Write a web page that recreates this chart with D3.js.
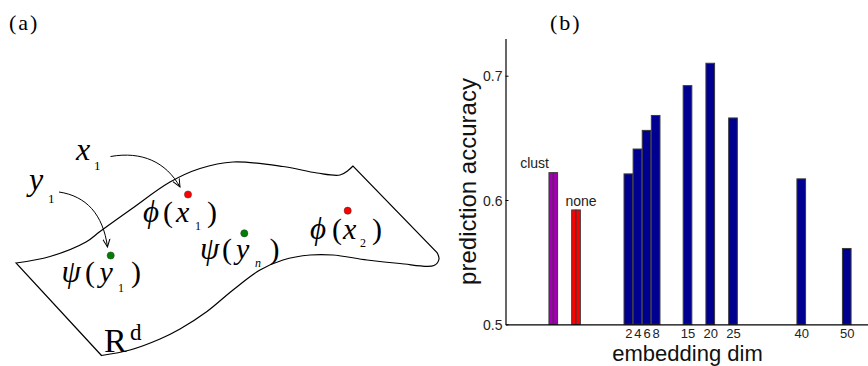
<!DOCTYPE html>
<html>
<head>
<meta charset="utf-8">
<script src="https://cdn.jsdelivr.net/npm/d3@7"></script>
<style>
  body { margin: 0; background: #fff; }
  svg { display: block; }
</style>
</head>
<body>
<svg id="fig" width="868" height="366"></svg>
<script>
// ---- panel (b) data ----
const methods = ['clust', 'none']
const methodPos = [-14.5, -9.5]
const methodAcc = [0.622, 0.592]
const methodColors = ['#a000b0', '#ff0000']

const dims = [2, 4, 6, 8, 15, 20, 25, 40, 50]
const dimAcc = [0.621, 0.641, 0.656, 0.668, 0.692, 0.71, 0.666, 0.617, 0.561]

const yTicks = [0.5, 0.6, 0.7]

// ---- panel (a) sketch outline ----
const manifoldTop = [[16, 263], [50, 256.5], [86, 242], [100, 231.5], [130, 210], [170, 182], [200, 168.5],
  [233, 162], [283, 166.5], [317, 173], [340, 175], [348, 170.5], [353, 166]]
const manifoldBottom = [[437, 252.5], [439, 259], [434, 265.5], [400, 263.5], [367, 260], [333, 255], [310, 255],
  [283, 260], [260, 270], [233, 290], [207, 311.5], [180, 329], [160, 339], [130, 350], [101.5, 355.5]]

const svg = d3.select('#fig')
const serif = "'Liberation Serif', 'Times New Roman', serif"
const sans = "'Liberation Sans', Arial, Helvetica, sans-serif"

// ================= panel (a) =================
const a = svg.append('g')

a.append('text')
  .attr('x', 9).attr('y', 30)
  .attr('font-family', serif).attr('font-size', 22)
  .attr('letter-spacing', 2)
  .text('(a)')

const curve = d3.line().curve(d3.curveCatmullRom.alpha(0.5))
const topPath = curve(manifoldTop)
const bottomPath = curve(manifoldBottom).replace(/^M/, 'L')
a.append('path')
  .attr('d', topPath + bottomPath + 'Z')
  .attr('fill', 'none')
  .attr('stroke', '#000')
  .attr('stroke-width', 1.2)

a.append('defs').append('marker')
  .attr('id', 'arr')
  .attr('viewBox', '0 -5 10 10')
  .attr('refX', 9).attr('refY', 0)
  .attr('markerWidth', 9).attr('markerHeight', 9)
  .attr('markerUnits', 'userSpaceOnUse')
  .attr('orient', 'auto')
  .append('path')
  .attr('d', 'M0,-4L9,0L0,4')
  .attr('fill', 'none')
  .attr('stroke', '#000')
  .attr('stroke-width', 1.1)

a.append('path')
  .attr('d', 'M110.5,156.5C142,151 166,162 180,187')
  .attr('fill', 'none').attr('stroke', '#000').attr('stroke-width', 1)
  .attr('marker-end', 'url(#arr)')
a.append('path')
  .attr('d', 'M59,192C86,196 103,214 107.5,247')
  .attr('fill', 'none').attr('stroke', '#000').attr('stroke-width', 1)
  .attr('marker-end', 'url(#arr)')

// glyphs of the sketch: [text, x, y, size, italic]
const glyphs = [
  ['x', 76, 160, 32, true], ['1', 94, 170, 13, false],
  ['y', 29, 190, 32, true], ['1', 48, 203, 13, false],
  ['\u03D5', 143, 221.5, 31, true], ['(', 163, 221.5, 30, false], ['x', 176, 221.5, 30, true],
  ['1', 195, 230, 12, false], [')', 207, 221.5, 30, false],
  ['\u03C8', 200, 258.5, 31, true], ['(', 222, 258.5, 30, false], ['y', 236, 258.5, 30, true],
  ['n', 255, 266.5, 12, true], [')', 269.5, 258.5, 30, false],
  ['\u03D5', 310, 238.5, 31, true], ['(', 332, 238.5, 30, false], ['x', 343, 238.5, 30, true],
  ['2', 360, 246.5, 12, false], [')', 372, 238.5, 30, false],
  ['\u03C8', 61.5, 282, 31, true], ['(', 85, 282, 30, false], ['y', 99.5, 282, 30, true],
  ['1', 118, 291.5, 12, false], [')', 131, 282, 30, false],
  ['R', 104, 351.5, 34, false], ['d', 130, 340, 23, false]
]
a.selectAll('text.glyph')
  .data(glyphs)
  .enter()
  .append('text')
  .attr('class', 'glyph')
  .attr('x', d => d[1]).attr('y', d => d[2])
  .attr('font-family', serif)
  .attr('font-size', d => d[3])
  .attr('font-style', d => (d[4] ? 'italic' : 'normal'))
  .text(d => d[0])

const dots = [[188, 194.5, '#ff0000'], [244.3, 233.3, '#008000'], [347.7, 210.7, '#ff0000'], [110.7, 255.5, '#008000']]
a.selectAll('circle')
  .data(dots)
  .enter()
  .append('circle')
  .attr('cx', d => d[0]).attr('cy', d => d[1])
  .attr('r', 3.6)
  .attr('fill', d => d[2])
  .attr('stroke', '#333')
  .attr('stroke-width', 0.5)

// ================= panel (b) =================
const b = svg.append('g')

b.append('text')
  .attr('x', 550).attr('y', 30)
  .attr('font-family', serif).attr('font-size', 22)
  .attr('letter-spacing', 2)
  .text('(b)')

const x = d3.scaleLinear().domain([-25, 55]).range([505.5, 869.5])
const y = d3.scaleLinear().domain([0.5, 0.73]).range([324.3, 38.4])
const unit = x(1) - x(0)
const bw = 1.9 * unit

// dimension bars
b.selectAll('rect.dim')
  .data(dims)
  .enter()
  .append('rect')
  .attr('class', 'dim')
  .attr('x', d => x(d) - bw / 2)
  .attr('width', bw)
  .attr('y', (d, i) => y(dimAcc[i]))
  .attr('height', (d, i) => y(0.5) - y(dimAcc[i]))
  .attr('fill', '#000090')
  .attr('stroke', '#3a3a3a')
  .attr('stroke-width', 1)

// method bars (drawn as a pair of halves)
methods.forEach((m, i) => {
  [-1, 1].forEach(side => {
    b.append('rect')
      .attr('x', x(methodPos[i]) + (side < 0 ? -bw / 2 : 0))
      .attr('width', bw / 2)
      .attr('y', y(methodAcc[i]))
      .attr('height', y(0.5) - y(methodAcc[i]))
      .attr('fill', methodColors[i])
      .attr('stroke', '#3a3a3a')
      .attr('stroke-width', 1)
  })
})

// method labels
b.append('text')
  .attr('x', x(methodPos[0]) - bw / 2)
  .attr('y', y(methodAcc[0]) - 5)
  .attr('text-anchor', 'end')
  .attr('font-family', sans).attr('font-size', 14)
  .attr('fill', '#222')
  .text(methods[0])
b.append('text')
  .attr('x', x(methodPos[1]) + 5)
  .attr('y', y(methodAcc[1]) - 4)
  .attr('text-anchor', 'middle')
  .attr('font-family', sans).attr('font-size', 14)
  .attr('fill', '#222')
  .text(methods[1])

// axes
const yAxis = b.append('g')
  .attr('transform', 'translate(' + x(-25) + ',0)')
  .call(d3.axisLeft(y).tickValues(yTicks).tickFormat(d3.format('.1f'))
    .tickSizeInner(-3).tickSizeOuter(0).tickPadding(3))
yAxis.selectAll('text')
  .attr('font-family', sans).attr('font-size', 14).attr('fill', '#222')
  .attr('dy', '0.36em')

const xAxis = b.append('g')
  .attr('transform', 'translate(0,' + y(0.5) + ')')
  .call(d3.axisBottom(x).tickValues(dims).tickFormat(d3.format('d'))
    .tickSize(0).tickPadding(4.5))
xAxis.selectAll('text')
  .attr('font-family', sans).attr('font-size', 13).attr('fill', '#222')
b.selectAll('.domain').attr('stroke', '#000').attr('stroke-width', 1.2)
b.selectAll('.tick line').attr('stroke', '#000')

// axis titles
b.append('text')
  .attr('transform', 'translate(476,181.5) rotate(-90)')
  .attr('text-anchor', 'middle')
  .attr('font-family', sans).attr('font-size', 24)
  .attr('fill', '#111')
  .text('prediction accuracy')
b.append('text')
  .attr('x', 687.5).attr('y', 361)
  .attr('text-anchor', 'middle')
  .attr('font-family', sans).attr('font-size', 22)
  .attr('fill', '#111')
  .text('embedding dim')
</script>
</body>
</html>
